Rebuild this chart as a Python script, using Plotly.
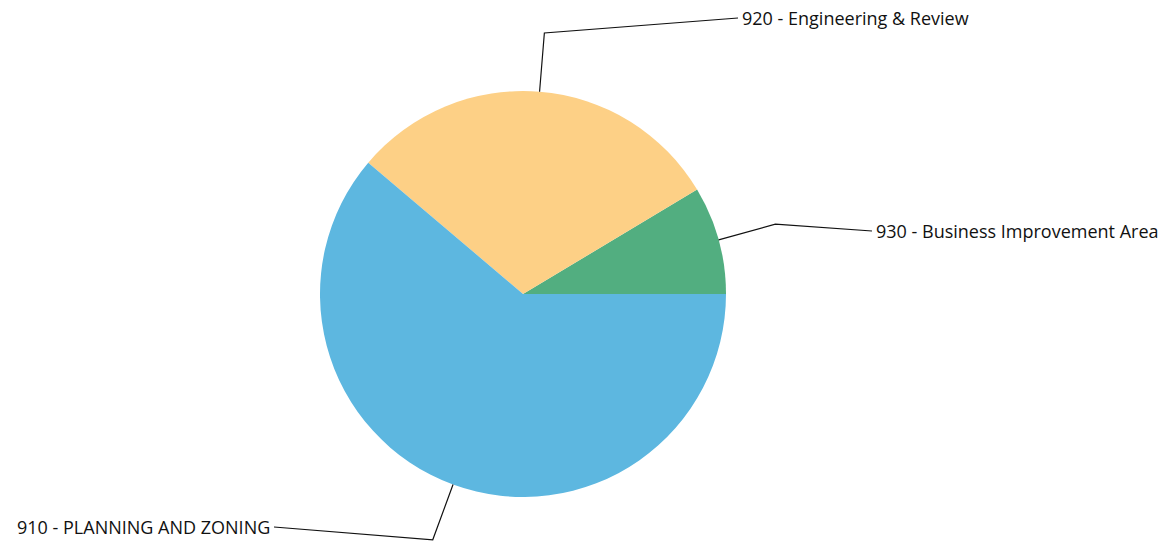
import math
import plotly.graph_objects as go

# Data
labels = ["930 - Business Improvement Area", "920 - Engineering & Review", "910 - PLANNING AND ZONING"]
values = [8.6, 30.2, 61.2]
colors = ["#52AE80", "#FDD086", "#5DB7E0"]

# Layout (pixels)
W, H = 1160, 543
CX, CY, R = 523, 294, 203
ELBOW = 1.29
label_end = [(872, 231, "left"), (738, 18, "left"), (274, 527, "right")]

total = sum(values)
# plotly counterclockwise: first slice ends at `rotation` (deg clockwise from 12 o'clock)
rotation = 90 - 360.0 * values[0] / total

fig = go.Figure(go.Pie(
    labels=labels, values=values, sort=False, direction="counterclockwise",
    rotation=rotation, textinfo="none", hoverinfo="skip",
    marker=dict(colors=colors, line=dict(width=0)),
    domain=dict(x=[(CX - R) / W, (CX + R) / W], y=[(H - CY - R) / H, (H - CY + R) / H]),
    showlegend=False,
))

def px(x, y):
    return x / W, 1 - y / H

start = 0.0
shapes, annotations = [], []
for v, lab, (lx, ly, anchor) in zip(values, labels, label_end):
    mid = start + v / total * 180.0
    start += v / total * 360.0
    a = math.radians(mid)
    x0, y0 = CX + R * math.cos(a), CY - R * math.sin(a)
    x1, y1 = CX + R * ELBOW * math.cos(a), CY - R * ELBOW * math.sin(a)
    p0, p1, p2 = px(x0, y0), px(x1, y1), px(lx, ly)
    shapes.append(dict(type="path", xref="paper", yref="paper",
                       path=f"M {p0[0]},{p0[1]} L {p1[0]},{p1[1]} L {p2[0]},{p2[1]}",
                       line=dict(color="#111111", width=1.2)))
    tx = lx + 2 if anchor == "left" else lx - 2
    q = px(tx, ly)
    annotations.append(dict(x=q[0], y=q[1], xref="paper", yref="paper", text=lab,
                            showarrow=False, xanchor=anchor, yanchor="middle",
                            font=dict(family="Open Sans", size=18, color="#111111")))

fig.update_layout(width=W, height=H, margin=dict(l=0, r=0, t=0, b=0),
                  paper_bgcolor="white", plot_bgcolor="white",
                  shapes=shapes, annotations=annotations)
fig.write_html("out.html")
